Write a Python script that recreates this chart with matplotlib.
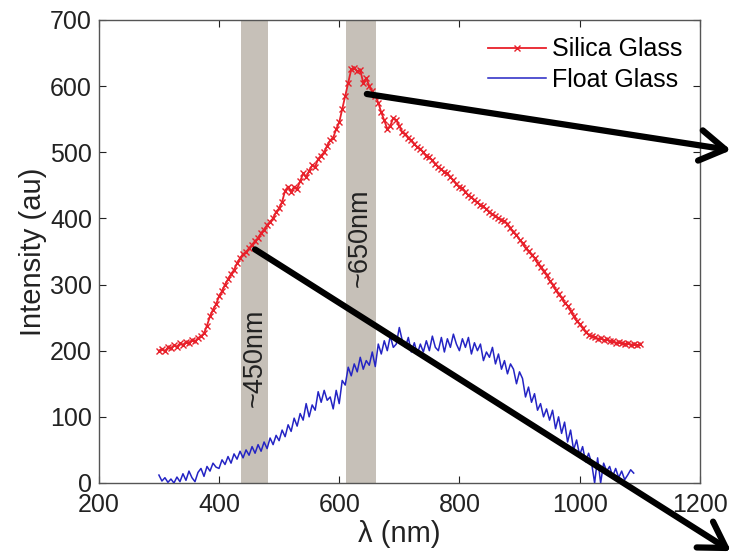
import numpy as np
import matplotlib
matplotlib.use('Agg')
import matplotlib.pyplot as plt

plt.rcParams['font.family'] = ['Liberation Sans', 'DejaVu Sans']

# wavelength grids (nm)
silica_wl = np.arange(300, 1101, 5)
float_wl = np.arange(300, 1091, 5)

silica = [200, 203, 199, 205, 204, 208, 206, 211, 209, 213,
          212, 216, 214, 219, 222, 226, 238, 252, 262, 270,
          282, 290, 300, 308, 316, 322, 332, 340, 346, 349,
          355, 360, 366, 370, 378, 383, 390, 395, 400, 410,
          415, 425, 442, 448, 440, 448, 445, 456, 468, 462,
          472, 480, 478, 490, 495, 500, 510, 518, 522, 535,
          545, 565, 585, 605, 625, 628, 622, 624, 605, 612,
          600, 592, 585, 575, 560, 548, 535, 540, 552, 548,
          540, 530, 528, 522, 518, 512, 508, 505, 500, 495,
          492, 488, 482, 478, 474, 470, 468, 462, 458, 452,
          448, 446, 440, 435, 432, 428, 424, 420, 418, 414,
          410, 406, 404, 400, 398, 396, 392, 385, 380, 375,
          368, 362, 355, 350, 345, 340, 332, 326, 320, 314,
          306, 300, 292, 285, 280, 272, 268, 260, 252, 245,
          240, 234, 228, 224, 222, 220, 218, 219, 216, 217,
          214, 215, 212, 213, 211, 210, 212, 209, 210, 208,
          210]

float_glass = [12, 3, 8, 1, 6, 0, 9, 2, 14, 4,
               18, 8, 2, 16, 22, 10, 25, 18, 30, 24,
               22, 35, 28, 40, 30, 44, 36, 48, 38, 50,
               42, 55, 45, 58, 48, 62, 52, 68, 58, 72,
               64, 80, 70, 88, 78, 98, 86, 105, 95, 120,
               100, 118, 110, 138, 122, 140, 125, 130, 112, 140,
               120, 155, 148, 175, 162, 180, 168, 190, 172, 185,
               178, 198, 176, 210, 195, 215, 200, 222, 205, 210,
               235, 215, 205, 220, 198, 212, 195, 210, 198, 215,
               200, 222, 205, 200, 220, 198, 218, 205, 225, 210,
               200, 218, 205, 220, 195, 212, 200, 210, 185, 198,
               190, 205, 180, 195, 172, 185, 165, 180, 172, 150,
               168, 158, 130, 145, 122, 135, 110, 120, 100, 112,
               95, 110, 82, 100, 75, 92, 62, 80, 50, 65,
               42, 55, 32, 45, 30, 0, 38, 0, 30, 18,
               25, 10, 22, 8, 18, 5, 12, 20, 15]

bands = [(436, 482), (612, 661)]
band_labels = ['~450nm', '~650nm']
band_label_pos = [(460, 189), (634, 370)]
arrows = [((646, 588), (1252, 503)), ((460, 353), (1252, -103))]

fig = plt.figure(figsize=(7.32, 5.52), dpi=100)
ax = fig.add_axes([0.135, 0.125, 0.821, 0.839])

for (a, b) in bands:
    ax.axvspan(a, b, color='#c6c0b8', lw=0, zorder=0)
for lab, (x, y) in zip(band_labels, band_label_pos):
    ax.text(x, y, lab, rotation=90, ha='center', va='center', fontsize=19.5, color='#222222')

ax.plot(silica_wl, silica, color='#e8202a', lw=1.3, marker='x', ms=5, mew=1.0,
        label='Silica Glass', zorder=3)
ax.plot(float_wl, float_glass, color='#2424c4', lw=1.1, label='Float Glass', zorder=3)

ax.set_xlim(200, 1200)
ax.set_ylim(0, 700)
ax.set_xticks(range(200, 1201, 200))
ax.set_yticks(range(0, 701, 100))
ax.tick_params(direction='in', top=True, right=True, labelsize=18, colors='#222222',
               length=5, width=0.8)
ax.tick_params(axis='x', pad=7)
ax.tick_params(axis='y', pad=5)
for s in ax.spines.values():
    s.set_color('#555555')
    s.set_linewidth(1)
ax.set_xlabel('λ (nm)', fontsize=21, color='#222222', labelpad=2)
ax.set_ylabel('Intensity (au)', fontsize=21, color='#222222', labelpad=2)

ax.legend(loc='upper right', frameon=False, fontsize=18, numpoints=1,
          handlelength=2.3, handletextpad=0.25, labelspacing=0.25,
          borderaxespad=0.4, borderpad=0.3)

for start, end in arrows:
    ax.annotate('', xy=end, xytext=start, annotation_clip=False,
                arrowprops=dict(arrowstyle='->,head_length=0.9,head_width=0.55',
                                lw=4.5, color='k', mutation_scale=20,
                                shrinkA=0, shrinkB=0), zorder=5)

fig.savefig('out.png', dpi=100)
